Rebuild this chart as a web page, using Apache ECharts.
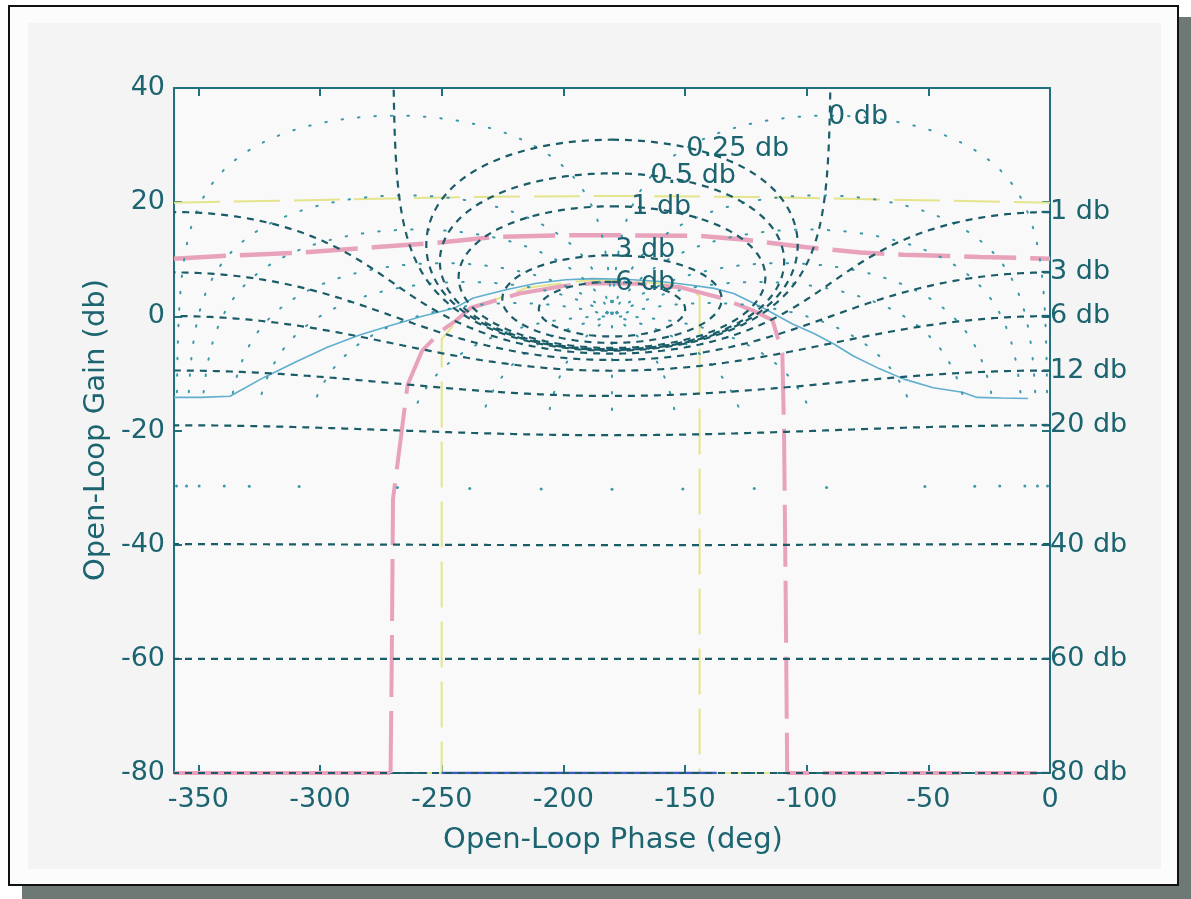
<!DOCTYPE html>
<html>
<head>
<meta charset="utf-8">
<title>Nichols Chart</title>
<script src="https://cdn.jsdelivr.net/npm/echarts@6/dist/echarts.min.js"></script>
<style>
  html, body { margin: 0; padding: 0; background: #ffffff; }
  #page { position: relative; width: 1191px; height: 899px; overflow: hidden; }
  .shadow { position: absolute; left: 22px; top: 17px; width: 1169px; height: 882px; background: #6e7975; }
  .frame { position: absolute; left: 8px; top: 5px; width: 1171px; height: 881px; background: #fcfcfc; border: 2px solid #111; box-sizing: border-box; }
  .figure { position: absolute; left: 28px; top: 23px; width: 1133px; height: 846px; background: #f4f4f4; }
  #chart { position: absolute; left: 0; top: 0; width: 1191px; height: 899px; }
</style>
</head>
<body>
<div id="page">
  <div class="shadow"></div>
  <div class="frame"></div>
  <div class="figure"></div>
  <div id="chart"></div>
</div>
<script>
// Axis ticks
const phaseTicks = [-350, -300, -250, -200, -150, -100, -50, 0];
const gainTicks = [-80, -60, -40, -20, 0, 20, 40];

// Nichols grid levels: closed-loop magnitude (dB) and closed-loop phase (deg)
const magLevelsDb = [6, 3, 1, 0.5, 0.25, 0, -1, -3, -6, -12, -20, -40, -60, -80];
const phaseLevelsDeg = [-1, -5, -10, -20, -30, -50, -90, -120, -150, -180];

// Grid labels inside the plot
const innerLabelText = ['0 db', '0.25 db', '0.5 db', '1 db', '3 db', '6 db'];
const innerLabelPhase = [-91.2, -149.5, -164.3, -172.1, -178.7, -178.7];
const innerLabelGain = [34.9, 29.4, 24.5, 19.1, 11.6, 5.8];

// Grid labels along the right edge
const edgeLabelText = ['-1 db', '-3 db', '-6 db', '-12 db', '-20 db', '-40 db', '-60 db', '-80 db'];
const edgeLabelPhase = [-4, -4, -4, -4, -4, -4, -4, -4];
const edgeLabelGain = [18.2, 7.7, 0, -9.5, -19.1, -40, -60, -80];

// Open-loop response (cyan)
const respPhase = [-360, -349, -337, -323, -310, -297, -284, -271, -258, -245, -237, -224, -211, -199, -188, -175, -160, -148, -138, -130, -118, -106, -97, -89, -81, -70, -60, -48, -36, -30, -20, -9];
const respGain  = [-14.2, -14.2, -14, -10.7, -8, -5.4, -3.3, -1.6, 0, 1.4, 3.2, 4.6, 5.8, 6.4, 6.6, 6.5, 6.1, 5.5, 4.9, 4, 1.5, -1.3, -3, -4.8, -6.9, -9.2, -11, -12.5, -13.3, -14.2, -14.3, -14.4];

// Lower boundary (pink): solid along the floor on the left, dashed elsewhere
const floorLeftPhase = [-360, -271];
const floorLeftGain  = [-80, -80];
const boundPhase = [-271, -270.5, -270, -267, -264, -258, -250, -244, -238, -226, -218, -200, -188, -170, -152, -135, -122, -114, -110, -109.3, -108.6, -108, 0];
const boundGain  = [-80, -60, -32, -22, -12, -6, -2.5, -0.7, 1.5, 3, 4, 5.3, 5.8, 5.7, 5.1, 3.2, 1, -0.7, -6.5, -20, -50, -80, -80];

// Upper boundary (pink, dashed)
const capPhase = [-360, -334, -307, -278, -254, -228, -200, -181, -144, -125, -100, -78, -60, -29, 0];
const capGain  = [10.1, 10.7, 11.2, 12.1, 12.8, 13.9, 14.2, 14.2, 14.1, 13.4, 12.1, 11.2, 10.8, 10.4, 10.1];

// Yellow traces
const ylwPhase = [-256, -250, -250, -240, -215, -188, -160, -148, -144, -144, -112];
const ylwGain  = [-80, -80, -4, 1, 5, 6.4, 5.8, 5, 3.5, -80, -80];
const topPhase = [-360, -300, -240, -180, -120, -60, 0];
const topGain  = [19.9, 20.4, 20.9, 21.1, 20.9, 20.4, 19.9];

// Blue trace along the floor
const floorPhase = [-250, -137];
const floorGain  = [-80, -80];

const AXIS = '#21707b';
const TEXT = '#1b6470';
const GRID_DARK = '#1a5c67';
const GRID_DOT = '#3a98a8';
const FONT = 'DejaVu Sans';

function zip(xs, ys) { return xs.map((x, i) => [x, ys[i]]); }

// Open-loop point for closed-loop T = M e^{j phi}: G = T / (1 - T)
function openLoop(M, phi) {
  const tr = M * Math.cos(phi), ti = M * Math.sin(phi);
  const dr = 1 - tr, di = -ti;
  const den = dr * dr + di * di;
  if (den < 1e-14) return null;
  const gr = (tr * dr + ti * di) / den;
  const gi = (ti * dr - tr * di) / den;
  return { gain: 20 * Math.log10(Math.hypot(gr, gi)), phase: Math.atan2(gi, gr) * 180 / Math.PI };
}

// Constant closed-loop magnitude contour
function magContour(mdb) {
  const M = Math.pow(10, mdb / 20);
  const N = 3600;
  const pts = [];
  let prev = null;
  for (let i = 0; i <= N; i++) {
    const phi = -i * 2 * Math.PI / N;
    const g = openLoop(M, phi);
    if (!g) continue;
    let ph = g.phase;
    if (prev === null) { if (ph > 0) ph -= 360; }
    else {
      while (ph - prev > 180) ph -= 360;
      while (ph - prev < -180) ph += 360;
    }
    prev = ph;
    pts.push([ph, Math.max(-200, Math.min(200, g.gain))]);
  }
  return pts;
}

// Constant closed-loop phase contour (optionally mirrored about -180 deg)
function phaseContour(psiDeg, mirror, fromDb) {
  const psi = psiDeg * Math.PI / 180;
  const pts = [];
  let d = fromDb;
  while (d <= 30) {
    const g = openLoop(Math.pow(10, d / 20), psi);
    if (g) {
      let ph = g.phase;
      if (ph > 0) ph -= 360;
      if (mirror) ph = -360 - ph;
      pts.push([ph, g.gain]);
    }
    d += Math.abs(d) < 3 ? 0.002 : 0.05;
  }
  return pts;
}

const series = [];

// Response traces underneath the grid
series.push({ type: 'line', data: zip(topPhase, topGain), symbol: 'none', z: 1,
  lineStyle: { color: '#e4e48c', width: 2, type: [46, 14] } });
series.push({ type: 'line', data: zip(ylwPhase, ylwGain), symbol: 'none', z: 1,
  lineStyle: { color: '#e4e48c', width: 2, type: [46, 14] } });
series.push({ type: 'line', data: zip(floorPhase, floorGain), symbol: 'none', z: 1,
  lineStyle: { color: '#3e5cc0', width: 2.5 } });
series.push({ type: 'line', data: zip(capPhase, capGain), symbol: 'none', z: 2,
  lineStyle: { color: '#e8a2bb', width: 4.5, type: [52, 14] } });
series.push({ type: 'line', data: zip(floorLeftPhase, floorLeftGain), symbol: 'none', z: 2,
  lineStyle: { color: '#e8a2bb', width: 4 } });
series.push({ type: 'line', data: zip(boundPhase, boundGain), symbol: 'none', z: 2,
  lineStyle: { color: '#e8a2bb', width: 4, type: [62, 14] } });
series.push({ type: 'line', data: zip(respPhase, respGain), symbol: 'none', z: 3,
  lineStyle: { color: '#62aece', width: 1.6 } });

// Magnitude contours (dashed)
magLevelsDb.forEach(m => {
  series.push({ type: 'line', data: magContour(m), symbol: 'none', z: 5, silent: true,
    lineStyle: { color: GRID_DARK, width: 2.2, type: [7, 6] } });
});

// Phase contours (dotted) with their sample row at the low end
phaseLevelsDeg.forEach(p => {
  const mirrors = p === -180 ? [false] : [false, true];
  mirrors.forEach(mr => {
    series.push({ type: 'line', data: phaseContour(p, mr, -15), symbol: 'none', z: 4, silent: true,
      lineStyle: { color: GRID_DOT, width: 2, type: [1.5, 15], cap: 'round' } });
  });
});
const dotRow = [];
phaseLevelsDeg.forEach(p => {
  const g = openLoop(Math.pow(10, -30 / 20), p * Math.PI / 180);
  let ph = g.phase; if (ph > 0) ph -= 360;
  dotRow.push([ph, g.gain]);
  if (p !== -180) dotRow.push([-360 - ph, g.gain]);
});
series.push({ type: 'scatter', data: dotRow, symbolSize: 3, z: 4, silent: true,
  itemStyle: { color: GRID_DOT, opacity: 1 } });

// Grid labels
function labelSeries(texts, xs, ys) {
  return { type: 'scatter', symbolSize: 0, z: 10, silent: true, clip: false,
    itemStyle: { opacity: 1 },
    label: { show: true, position: 'right', distance: 0, formatter: '{b}', opacity: 1,
      color: TEXT, fontSize: 27, fontFamily: FONT },
    data: texts.map((t, i) => ({ name: t, value: [xs[i], ys[i]] })) };
}
series.push(labelSeries(innerLabelText, innerLabelPhase, innerLabelGain));
series.push(labelSeries(edgeLabelText, edgeLabelPhase, edgeLabelGain));

const tickCommon = { show: true, inside: true, length: 8, lineStyle: { color: AXIS, width: 2 } };
const lineCommon = { show: true, onZero: false, lineStyle: { color: AXIS, width: 2 } };

const option = {
  animation: false,
  backgroundColor: 'transparent',
  grid: { left: 174, top: 88, width: 876, height: 685, show: true,
    backgroundColor: '#f9f9f9', borderWidth: 0 },
  xAxis: [
    { type: 'value', min: -360, max: 0, position: 'bottom',
      axisLine: lineCommon,
      axisTick: Object.assign({}, tickCommon, { customValues: phaseTicks }),
      axisLabel: { customValues: phaseTicks, color: TEXT, fontSize: 27, fontFamily: FONT, margin: 13 },
      splitLine: { show: false } },
    { type: 'value', min: -360, max: 0, position: 'top',
      axisLine: lineCommon,
      axisTick: Object.assign({}, tickCommon, { customValues: phaseTicks }),
      axisLabel: { show: false }, splitLine: { show: false } }
  ],
  yAxis: [
    { type: 'value', min: -80, max: 40, interval: 20, position: 'left',
      axisLine: lineCommon,
      axisTick: tickCommon,
      axisLabel: { color: TEXT, fontSize: 27, fontFamily: FONT, margin: 9 },
      splitLine: { show: false } },
    { type: 'value', min: -80, max: 40, interval: 20, position: 'right',
      axisLine: lineCommon,
      axisTick: tickCommon,
      axisLabel: { show: false }, splitLine: { show: false } }
  ],
  graphic: [
    { type: 'text', x: 613, y: 840, silent: true,
      style: { text: 'Open-Loop Phase (deg)', fill: TEXT, font: '29px "DejaVu Sans"',
        align: 'center', verticalAlign: 'middle' } },
    { type: 'text', x: 96, y: 430, rotation: Math.PI / 2, silent: true,
      style: { text: 'Open-Loop Gain (db)', fill: TEXT, font: '29px "DejaVu Sans"',
        align: 'center', verticalAlign: 'middle' } }
  ],
  series: series
};

const chart = echarts.init(document.getElementById('chart'), null, { renderer: 'canvas' });
chart.setOption(option);
</script>
</body>
</html>
